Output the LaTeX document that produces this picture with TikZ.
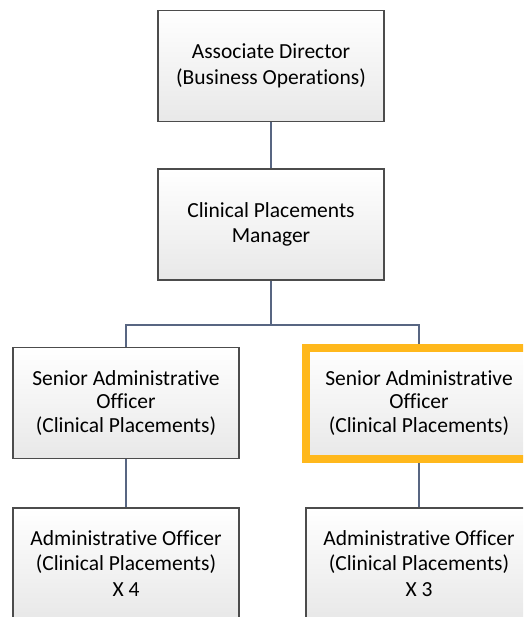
\documentclass[tikz,border=0pt]{standalone}
\usepackage{fontspec}
\setmainfont{Carlito}[Ligatures=NoCommon]
\usetikzlibrary{positioning, backgrounds}
\definecolor{linkblue}{RGB}{88,102,130}
\definecolor{hiorange}{RGB}{255,184,28}
\def\boxwd{226pt}
\def\boxht{111pt}

\begin{document}
\begin{tikzpicture}[x=1pt, y=-1pt]
    \tikzstyle{post}=[rectangle, draw=black!70, line width=1.3pt, top color=white, bottom color=black!9,
        minimum width=\boxwd, minimum height=\boxht, inner sep=0pt, align=center,
        font=\fontsize{21.5}{25.7}\selectfont]
    \tikzstyle{senior post}=[post, font=\fontsize{21.5}{23.3}\selectfont];
    \tikzstyle{vacant post}=[senior post, draw=hiorange, line width=8pt];
    \tikzstyle{link}=[draw=linkblue, line width=2.8pt]

    % Fix the frame, the lowest boxes run off the page
    \useasboundingbox (0,0) rectangle (523,617);
    \clip (0,0) rectangle (523,617);

    % Draw the top two posts
    \node[post] (AD) at (271,66) {Associate Director\\(Business Operations)};
    \node[post] (CPM) at (271,224.5) {Clinical Placements\\Manager};

    % Draw the two senior officers
    \node[senior post] (SAO-1) at (126,403) {Senior Administrative\\Officer\\(Clinical Placements)};
    \node[vacant post] (SAO-2) at (419,403) {Senior Administrative\\Officer\\(Clinical Placements)};

    % Draw the officer teams
    \foreach \name / \x / \n in {1/126/4, 2/419/3}
        \node[post] (AO-\name) at (\x,563.5) {Administrative Officer\\(Clinical Placements)\\X \n};

    % Connect the posts
    \begin{pgfonlayer}{background}
        \coordinate (J) at (271,325);
        \draw[link] (AD) -- (CPM);
        \draw[link] (CPM) -- (J);
        \draw[link] (J) -| (SAO-1);
        \draw[link] (J) -| (SAO-2);
        \foreach \name in {1,2}
            \draw[link] (SAO-\name) -- (AO-\name);
    \end{pgfonlayer}
\end{tikzpicture}
\end{document}
